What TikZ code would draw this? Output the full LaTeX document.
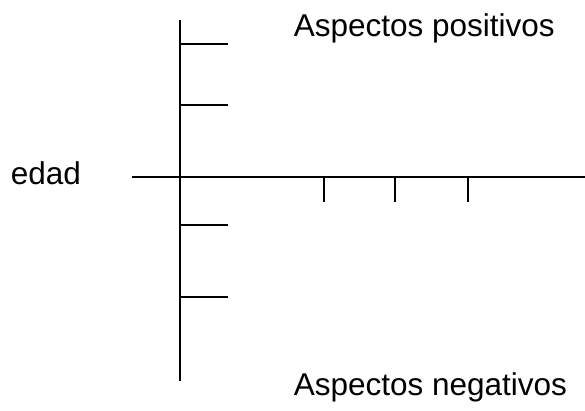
\documentclass[tikz,border=0pt]{standalone}
\usepackage{fontspec}
\setmainfont{Liberation Sans}
\usepackage{tikz}

\begin{document}
\begin{tikzpicture}[x=1pt, y=-1pt, line width=1.6pt,
		lbl/.style={anchor=base west, inner sep=0pt, font=\fontsize{31.5}{38}\selectfont}]
		\useasboundingbox (0,0) rectangle (585,411);
		% ejes
		\coordinate (top) at (180,20);
		\coordinate (bottom) at (180,381);
		\coordinate (left) at (132,177);
		\coordinate (right) at (585,177);
		\draw (top) -- (bottom);
		\draw (left) -- (right);
		\foreach \y in {44, 105, 225, 297} {
				\draw (180,\y) -- (228,\y);
			}
		\foreach \x in {324, 395, 468} {
				\draw (\x,177) -- (\x,202);
			}
		\node[lbl] (pos) at (293,37) {Aspectos positivos};
		\node[lbl] (edad) at (10,185) {edad};
		\node[lbl] (neg) at (293,395) {Aspectos negativos};
	\end{tikzpicture}
\end{document}
